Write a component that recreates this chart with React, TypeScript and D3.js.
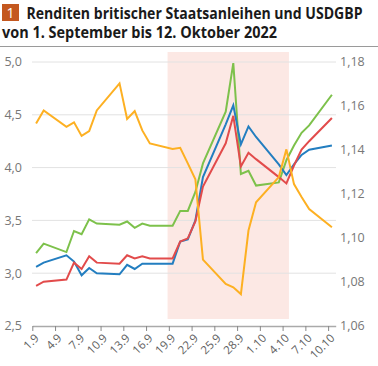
import React, { useEffect, useRef } from "react";
import * as d3 from "d3";

// Handelstage (Werte jeweils zur Tagesmitte gezeichnet)
const dates = [
  "2022-09-01", "2022-09-02", "2022-09-05", "2022-09-06", "2022-09-07", "2022-09-08", "2022-09-09",
  "2022-09-12", "2022-09-13", "2022-09-14", "2022-09-15", "2022-09-16", "2022-09-19", "2022-09-20",
  "2022-09-21", "2022-09-22", "2022-09-23", "2022-09-26", "2022-09-27", "2022-09-28", "2022-09-29",
  "2022-09-30", "2022-10-03", "2022-10-04", "2022-10-05", "2022-10-06", "2022-10-07", "2022-10-10",
];

// Renditen (linke Achse, %)
const green = [
  3.19, 3.28, 3.2, 3.4, 3.37, 3.51, 3.47, 3.46, 3.49, 3.43, 3.47, 3.45, 3.45, 3.59,
  3.59, 3.77, 4.04, 4.53, 4.99, 3.94, 3.97, 3.83, 3.86, 4.07, 4.21, 4.33, 4.4, 4.69,
];
const blue = [
  3.06, 3.1, 3.17, 3.11, 2.98, 3.05, 3.0, 2.99, 3.08, 3.04, 3.09, 3.09, 3.09, 3.3,
  3.32, 3.5, 3.91, 4.41, 4.59, 4.22, 4.39, 4.29, 4.03, 3.93, 4.03, 4.12, 4.17, 4.21,
];
const red = [
  2.88, 2.92, 2.94, 3.1, 3.04, 3.16, 3.1, 3.09, 3.17, 3.14, 3.16, 3.14, 3.14, 3.3,
  3.33, 3.49, 3.82, 4.23, 4.49, 4.01, 4.14, 4.08, 3.91, 3.85, 4.02, 4.17, 4.25, 4.47,
];
// USDGBP (rechte Achse)
const fx = [
  1.152, 1.158, 1.1505, 1.1526, 1.1464, 1.1486, 1.158, 1.1703, 1.1541, 1.1577, 1.1489, 1.143, 1.1405, 1.141,
  1.1339, 1.1267, 1.0902, 1.0791, 1.0776, 1.0745, 1.1034, 1.1162, 1.1277, 1.1403, 1.1245, 1.1186, 1.1132, 1.1049,
];

const tickDates = [
  "2022-09-01", "2022-09-04", "2022-09-07", "2022-09-10", "2022-09-13", "2022-09-16", "2022-09-19",
  "2022-09-22", "2022-09-25", "2022-09-28", "2022-10-01", "2022-10-04", "2022-10-07", "2022-10-10",
];
const tickLabels = ["1.9", "4.9", "7.9", "10.9", "13.9", "16.9", "19.9", "22.9", "25.9", "28.9", "1.10", "4.10", "7.10", "10.10"];
const leftTicks = [2.5, 3.0, 3.5, 4.0, 4.5, 5.0];
const rightTicks = [1.06, 1.08, 1.1, 1.12, 1.14, 1.16, 1.18];
const shade = ["2022-09-18T20:00", "2022-10-04T20:00"];

const W = 378;
const H = 366;

export default function App() {
  const svgRef = useRef<SVGSVGElement>(null);

  useEffect(() => {
    const svg = d3.select(svgRef.current);
    svg.selectAll("*").remove();

    const parseDay = d3.timeParse("%Y-%m-%d");
    const parseTime = d3.timeParse("%Y-%m-%dT%H:%M");
    const de = d3.formatLocale({ decimal: ",", thousands: ".", grouping: [3], currency: ["", " €"] });
    const font = "'Open Sans', 'Noto Sans', sans-serif";

    const x = d3.scaleTime()
      .domain([parseDay("2022-09-01")!, parseDay("2022-10-11")!])
      .range([32.3, 335.7]);
    const yL = d3.scaleLinear().domain([2.5, 5]).range([326, 62]);
    const yR = d3.scaleLinear().domain([1.06, 1.18]).range([326, 62]);

    const days = dates.map(d => d3.timeHour.offset(parseDay(d)!, 12));

    // Titel
    svg.append("rect").attr("x", 2).attr("y", 4).attr("width", 17).attr("height", 17).attr("fill", "#c4581f");
    svg.append("text").attr("x", 10.5).attr("y", 18).attr("text-anchor", "middle")
      .attr("fill", "#fff").attr("font-family", font).attr("font-size", 14).text("1");
    svg.append("text").attr("x", 26.5).attr("y", 18.5)
      .attr("font-family", font).attr("font-weight", "bold").attr("font-size", 15.5).attr("fill", "#1a1a1a")
      .attr("textLength", 336).attr("lengthAdjust", "spacingAndGlyphs")
      .text("Renditen britischer Staatsanleihen und USDGBP");
    svg.append("text").attr("x", 2).attr("y", 37.5)
      .attr("font-family", font).attr("font-weight", "bold").attr("font-size", 15.5).attr("fill", "#1a1a1a")
      .attr("textLength", 275).attr("lengthAdjust", "spacingAndGlyphs")
      .text("von 1. September bis 12. Oktober 2022");
    svg.append("line").attr("x1", 0).attr("x2", W).attr("y1", 46.5).attr("y2", 46.5)
      .attr("stroke", "#9a9a9a").attr("stroke-width", 1);

    // Markierter Zeitraum
    svg.append("rect")
      .attr("x", x(parseTime(shade[0])!))
      .attr("width", x(parseTime(shade[1])!) - x(parseTime(shade[0])!))
      .attr("y", 52).attr("height", 267)
      .attr("fill", "#fce8e4");

    // Gitterlinien
    svg.append("g").selectAll("line")
      .data(leftTicks.filter(t => t > 2.5))
      .join("line")
      .attr("x1", 32).attr("x2", 336)
      .attr("y1", d => yL(d)).attr("y2", d => yL(d))
      .attr("stroke", "#e2e2e2").attr("stroke-width", 1);

    // Achsenbeschriftungen links / rechts
    svg.append("g").selectAll("text")
      .data(leftTicks)
      .join("text")
      .attr("x", 22).attr("y", d => yL(d)).attr("dy", "0.35em")
      .attr("text-anchor", "end")
      .attr("font-family", font).attr("font-size", 12.5).attr("fill", "#777")
      .text(d => de.format(".1f")(d));
    svg.append("g").selectAll("text")
      .data(rightTicks)
      .join("text")
      .attr("x", 340).attr("y", d => yR(d)).attr("dy", "0.35em")
      .attr("font-family", font).attr("font-size", 12.5).attr("fill", "#777")
      .text(d => de.format(".2f")(d));

    // x-Achse
    const xAxis = d3.axisBottom(x)
      .tickValues(tickDates.map(d => parseDay(d)!))
      .tickFormat((_, i) => tickLabels[i])
      .tickSize(5)
      .tickSizeOuter(0);
    const gx = svg.append("g").attr("transform", "translate(0,326)").call(xAxis);
    gx.select(".domain").attr("stroke", "#aaa").attr("stroke-width", 1.5);
    gx.selectAll(".tick line").attr("stroke", "#888");
    gx.selectAll(".tick text")
      .attr("font-family", font).attr("font-size", 11.5).attr("fill", "#606060")
      .attr("text-anchor", "end")
      .attr("x", 0).attr("y", 0).attr("dy", "0.35em")
      .attr("transform", "translate(4,10) rotate(-45)");

    // Linien
    const lineL = d3.line<number>().x((_, i) => x(days[i])).y(d => yL(d));
    const lineR = d3.line<number>().x((_, i) => x(days[i])).y(d => yR(d));
    const series: [number[], string, typeof lineL][] = [
      [green, "#7dc14b", lineL],
      [blue, "#237ec0", lineL],
      [red, "#e24b4b", lineL],
      [fx, "#fdb022", lineR],
    ];
    series.forEach(([vals, color, gen]) => {
      svg.append("path")
        .attr("d", gen(vals))
        .attr("fill", "none")
        .attr("stroke", color)
        .attr("stroke-width", 2)
        .attr("stroke-linejoin", "miter");
    });
  }, []);

  return (
    <svg ref={svgRef} width={W} height={H} style={{ position: "absolute", left: 0, top: 0, background: "#fff" }} />
  );
}
